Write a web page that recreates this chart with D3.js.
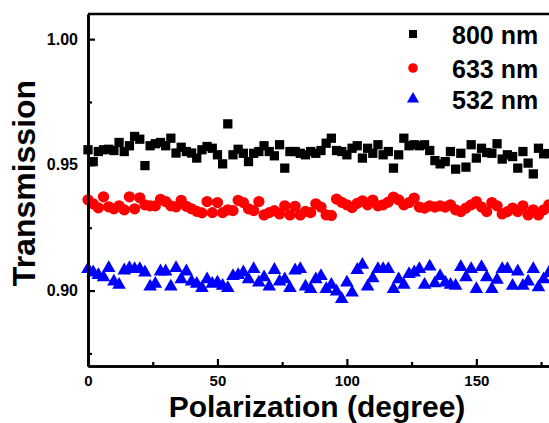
<!DOCTYPE html>
<html>
<head>
<meta charset="utf-8">
<script src="https://cdn.jsdelivr.net/npm/d3@7"></script>
<style>
body { margin: 0; background: #fff; }
svg { display: block; font-family: "Liberation Sans", Arial, sans-serif; font-weight: bold; }
</style>
</head>
<body>
<svg id="chart" width="549" height="423"></svg>
<script>
// polarization angle (degree)
var angles = [0, 2, 4, 6, 8, 10, 12, 14, 16, 18, 20, 22, 24, 26, 28, 30, 32, 34, 36, 38,
    40, 42, 44, 46, 48, 50, 52, 54, 56, 58, 60, 62, 64, 66, 68, 70, 72, 74, 76, 78,
    80, 82, 84, 86, 88, 90, 92, 94, 96, 98, 100, 102, 104, 106, 108, 110, 112, 114, 116, 118,
    120, 122, 124, 126, 128, 130, 132, 134, 136, 138, 140, 142, 144, 146, 148, 150, 152, 154, 156, 158,
    160, 162, 164, 166, 168, 170, 172, 174, 176, 178, 180];

var t800 = [0.9560, 0.9513, 0.9553, 0.9560, 0.9562, 0.9557, 0.9589, 0.9553, 0.9576, 0.9613,
    0.9602, 0.9497, 0.9576, 0.9584, 0.9589, 0.9576, 0.9606, 0.9547, 0.9570, 0.9553,
    0.9547, 0.9527, 0.9560, 0.9573, 0.9566, 0.9540, 0.9504, 0.9663, 0.9540, 0.9562,
    0.9546, 0.9513, 0.9546, 0.9553, 0.9576, 0.9553, 0.9536, 0.9580, 0.9487, 0.9553,
    0.9553, 0.9546, 0.9540, 0.9553, 0.9546, 0.9557, 0.9586, 0.9606, 0.9557, 0.9553,
    0.9540, 0.9566, 0.9576, 0.9527, 0.9566, 0.9546, 0.9580, 0.9540, 0.9553, 0.9487,
    0.9540, 0.9606, 0.9576, 0.9580, 0.9576, 0.9580, 0.9557, 0.9517, 0.9504, 0.9513,
    0.9553, 0.9483, 0.9546, 0.9491, 0.9580, 0.9527, 0.9566, 0.9549, 0.9546, 0.9584,
    0.9523, 0.9540, 0.9533, 0.9487, 0.9553, 0.9507, 0.9464, 0.9566, 0.9544, 0.9545, 0.9550];

var t633 = [0.9361, 0.9345, 0.9329, 0.9373, 0.9333, 0.9325, 0.9337, 0.9321, 0.9373, 0.9325,
    0.9369, 0.9341, 0.9337, 0.9337, 0.9363, 0.9354, 0.9337, 0.9333, 0.9359, 0.9335,
    0.9325, 0.9315, 0.9309, 0.9354, 0.9310, 0.9350, 0.9310, 0.9321, 0.9318, 0.9359,
    0.9350, 0.9325, 0.9318, 0.9354, 0.9301, 0.9310, 0.9318, 0.9305, 0.9337, 0.9301,
    0.9335, 0.9301, 0.9315, 0.9310, 0.9345, 0.9332, 0.9301, 0.9299, 0.9364, 0.9351,
    0.9341, 0.9330, 0.9347, 0.9357, 0.9341, 0.9360, 0.9337, 0.9341, 0.9352, 0.9372,
    0.9361, 0.9341, 0.9350, 0.9368, 0.9332, 0.9328, 0.9337, 0.9332, 0.9337, 0.9332,
    0.9341, 0.9321, 0.9314, 0.9328, 0.9341, 0.9354, 0.9332, 0.9314, 0.9350, 0.9337,
    0.9305, 0.9314, 0.9328, 0.9314, 0.9337, 0.9301, 0.9321, 0.9301, 0.9321, 0.9341, 0.9330];

var t532 = [0.9085, 0.9072, 0.9062, 0.9053, 0.9089, 0.9036, 0.9023, 0.9080, 0.9089, 0.9085,
    0.9085, 0.9072, 0.9016, 0.9027, 0.9076, 0.9076, 0.9016, 0.9089, 0.9045, 0.9076,
    0.9036, 0.9027, 0.9010, 0.9045, 0.9027, 0.9032, 0.9019, 0.9010, 0.9058, 0.9062,
    0.9072, 0.9045, 0.9085, 0.9032, 0.9053, 0.9016, 0.9082, 0.9036, 0.9045, 0.9010,
    0.9080, 0.9085, 0.9016, 0.9006, 0.9045, 0.9058, 0.9006, 0.9023, 0.8996, 0.8966,
    0.9032, 0.8992, 0.9082, 0.9102, 0.9016, 0.9049, 0.9085, 0.9085, 0.9085, 0.9006,
    0.9045, 0.9023, 0.9066, 0.9072, 0.9085, 0.9023, 0.9095, 0.9029, 0.9058, 0.9032,
    0.9023, 0.9019, 0.9093, 0.9053, 0.9085, 0.9006, 0.9093, 0.9053, 0.9006, 0.9043,
    0.9085, 0.9085, 0.9019, 0.9076, 0.9019, 0.9036, 0.9085, 0.9013, 0.9045, 0.9070, 0.9050];

var seriesNames = ["800 nm", "633 nm", "532 nm"];
var xTicks = [0, 50, 100, 150];
var xMinor = [25, 75, 125, 175];
var yTicks = [0.90, 0.95, 1.00];
var yMinor = [0.875, 0.925, 0.975];

var svg = d3.select("#chart");
var plotLeft = 88, plotRight = 554, plotTop = 14, plotBottom = 366;

var x = d3.scaleLinear().domain([0, 180]).range([plotLeft, plotRight]);
var y = d3.scaleLinear().domain([0.87, 1.01]).range([plotBottom, plotTop]);

var colors = ["#000000", "#ff0000", "#0000ff"];
var shapes = [d3.symbolSquare, d3.symbolCircle, d3.symbolTriangle];
var sizes = [86, 100, 80];
var allSeries = [t800, t633, t532];

// data points
allSeries.forEach(function(vals, i) {
    var pts = angles.map(function(a, j) { return { a: a, v: vals[j] }; });
    svg.append("g").selectAll("path")
        .data(pts)
        .enter().append("path")
        .attr("transform", function(d) { return "translate(" + x(d.a) + "," + y(d.v) + ")"; })
        .attr("d", d3.symbol().type(shapes[i]).size(sizes[i]))
        .attr("fill", colors[i]);
});

// frame
svg.append("line").attr("x1", plotLeft).attr("x2", plotRight).attr("y1", plotTop).attr("y2", plotTop)
    .attr("stroke", "#000").attr("stroke-width", 2.6);
svg.append("line").attr("x1", plotRight).attr("x2", plotRight).attr("y1", plotTop).attr("y2", plotBottom)
    .attr("stroke", "#000").attr("stroke-width", 2.6);

// axes
var yAxis = d3.axisLeft(y).tickValues(yTicks).tickFormat(d3.format(".2f"))
    .tickSizeInner(-7).tickSizeOuter(0).tickPadding(10);
var yAxisMinor = d3.axisLeft(y).tickValues(yMinor).tickFormat("")
    .tickSizeInner(-4).tickSizeOuter(0);
var xAxis = d3.axisBottom(x).tickValues(xTicks).tickFormat(d3.format("d"))
    .tickSizeInner(-7).tickSizeOuter(0).tickPadding(9);
var xAxisMinor = d3.axisBottom(x).tickValues(xMinor).tickFormat("")
    .tickSizeInner(-4).tickSizeOuter(0);

svg.append("g").attr("transform", "translate(" + plotLeft + ",0)").call(yAxisMinor);
svg.append("g").attr("transform", "translate(0," + plotBottom + ")").call(xAxisMinor);
var gy = svg.append("g").attr("transform", "translate(" + plotLeft + ",0)").call(yAxis);
var gx = svg.append("g").attr("transform", "translate(0," + plotBottom + ")").call(xAxis);

svg.selectAll(".domain").attr("stroke-width", 2.6);
svg.selectAll(".tick line").attr("stroke-width", 2.2);
svg.selectAll(".tick text").attr("font-weight", "bold")
    .attr("font-family", "'Liberation Sans', Arial, sans-serif").attr("fill", "#000");
gy.selectAll(".tick text").attr("font-size", 16);
gx.selectAll(".tick text").attr("font-size", 15);

// axis titles
svg.append("text")
    .attr("x", 317).attr("y", 416.5)
    .attr("text-anchor", "middle")
    .attr("font-size", 30)
    .text("Polarization (degree)");

svg.append("text")
    .attr("transform", "translate(35,183) rotate(-90)")
    .attr("text-anchor", "middle")
    .attr("font-size", 32)
    .text("Transmission");

// legend
var legendY = [34, 68, 99];
var legendSizes = [64, 72, 64];
seriesNames.forEach(function(name, i) {
    svg.append("path")
        .attr("transform", "translate(413," + legendY[i] + ")")
        .attr("d", d3.symbol().type(shapes[i]).size(legendSizes[i]))
        .attr("fill", colors[i]);
    svg.append("text")
        .attr("x", 452).attr("y", legendY[i] + 10)
        .attr("font-size", 25)
        .text(name);
});
</script>
</body>
</html>
